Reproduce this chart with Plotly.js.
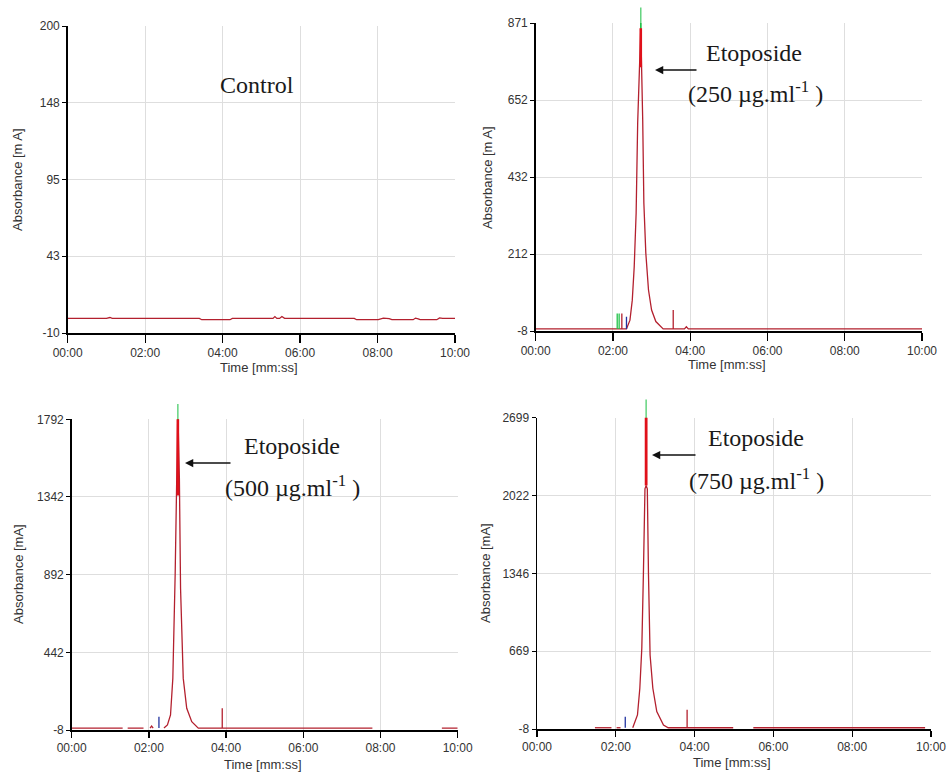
<!DOCTYPE html>
<html><head><meta charset="utf-8">
<script src="https://cdn.plot.ly/plotly-3.0.1.min.js"></script>
<style>html,body{margin:0;padding:0;background:#fff}#chart{width:947px;height:772px}</style>
</head><body><div id="chart"></div>
<script>
// ---------------- DATA (time in minutes, absorbance in mA) ----------------
const xTickVals = [0, 2, 4, 6, 8, 10];
const xTickText = ['00:00', '02:00', '04:00', '06:00', '08:00', '10:00'];

// Panel 1 – Control
const ctrlTime = [0, 1.0, 1.09, 1.15, 3.4, 3.46, 4.19, 4.25, 5.3, 5.35, 5.4, 5.47, 5.53, 5.6, 7.4, 7.46, 8.02, 8.15, 8.3, 8.37, 8.92, 8.98, 9.05, 9.1, 9.53, 9.6, 9.68, 10];
const ctrlAbs  = [0, 0, 0.6, 0, 0, -0.9, -0.9, 0, 0, 1.2, 0, 0, 1.3, 0, 0, -0.9, -0.9, 0.2, -0.2, -0.9, -0.9, 0.2, -0.3, -0.9, -0.9, 0.3, 0, 0];
const ctrlTickVals = [-10, 42.5, 95, 147.5, 200];
const ctrlTickText = ['-10', '43', '95', '148', '200'];
const ctrlRange = [-10, 200];

// Panel 2 – Etoposide 250 µg/ml
const p250Time = [0, 2.35, 2.44, 2.50, 2.55, 2.60, 2.64, 2.68, 2.72, 2.77, 2.80, 2.85, 2.92, 3.00, 3.11, 3.30, 3.85, 3.90, 3.95, 10];
const p250Abs  = [-2, -2, 23, 80, 175, 329, 586, 746, 856, 594, 357, 215, 109, 52, 19, -2, -2, 4, -2, -2];
const p250Base = -2;
const p250GreenSpikeTime = [2.11, 2.16];
const p250GreenSpikeAbs  = [42, 42];
const p250RedSpikeTime = [2.23, 3.56];
const p250RedSpikeAbs  = [42, 52];
const p250BlueSpikeTime = [2.35];
const p250BlueSpikeAbs  = [33];
const p250ApexTime = [2.72, 2.72];
const p250ApexAbs  = [745, 856];
const p250TopTime = [2.72, 2.72];
const p250TopAbs  = [856, 871];
const p250TickVals = [-8, 211.75, 431.5, 651.25, 871];
const p250TickText = ['-8', '212', '432', '652', '871'];
const p250Range = [-8, 871];

// Panel 3 – Etoposide 500 µg/ml
const p500Time = [0, 1.32, 1.38, 1.45, 1.86, 1.95, 2.03, 2.07, 2.11, 2.2, 2.39, 2.48, 2.56, 2.62, 2.68, 2.71, 2.75, 2.79, 2.82, 2.89, 2.98, 3.11, 3.28, 7.79, 8.5, 9.59, 10];
const p500Abs  = [3, 3, null, 3, 3, null, 3, 15, 3, null, 3, 21, 79, 291, 890, 1400, 1850, 1450, 813, 291, 118, 40, 3, 3, null, 3, 3];
const p500Base = 3;
const p500BlueSpikeTime = [2.26];
const p500BlueSpikeAbs  = [69];
const p500RedSpikeTime = [3.90];
const p500RedSpikeAbs  = [118];
const p500ApexTime = [2.75, 2.75];
const p500ApexAbs  = [1350, 1850];
const p500TopTime = [2.75, 2.75];
const p500TopAbs  = [1760, 1792];
const p500TickVals = [-8, 442, 892, 1342, 1792];
const p500TickText = ['-8', '442', '892', '1342', '1792'];
const p500Range = [-8, 1792];

// Panel 4 – Etoposide 750 µg/ml
const p750Time = [1.47, 1.89, 1.95, 2.02, 2.12, 2.2, 2.43, 2.55, 2.61, 2.66, 2.70, 2.74, 2.77, 2.80, 2.83, 2.87, 2.94, 3.04, 3.21, 3.33, 4.98, 5.2, 5.49, 9.85];
const p750Abs  = [3, 3, null, 3, 3, null, 3, 114, 346, 694, 1331, 2080, 2110, 2080, 1331, 636, 346, 143, 27, 3, 3, null, 3, 3];
const p750Base = 3;
const p750BlueSpikeTime = [2.24];
const p750BlueSpikeAbs  = [99];
const p750RedSpikeTime = [3.81];
const p750RedSpikeAbs  = [160];
const p750ApexTime = [2.77, 2.77];
const p750ApexAbs  = [2110, 2760];
const p750TopTime = [2.77, 2.77];
const p750TopAbs  = [2650, 2699];
const p750TickVals = [-8, 668.75, 1345.5, 2022.25, 2699];
const p750TickText = ['-8', '669', '1346', '2022', '2699'];
const p750Range = [-8, 2699];

// ---------------- STYLE / LAYOUT ----------------
const W = 947, H = 772;
const MAIN = '#b3202e', APEX = '#e0101a', GREEN = '#22c24a', BLUE = '#2233a0';
const TICKFONT = {family: "'Liberation Sans Narrow', 'Liberation Sans', Arial, sans-serif", size: 12, color: '#333'};
const TITLEFONT = {family: "'Liberation Sans', Arial, sans-serif", size: 13, color: '#333'};
const SERIF = {family: "'Liberation Serif', 'DejaVu Serif', serif", size: 24, color: '#1a1a1a'};

function px(x, y) { return {x: x / W, y: 1 - y / H}; }

const traces = [];
function line(t, v, n, color, width) {
  traces.push({x: t, y: v, xaxis: 'x' + n, yaxis: 'y' + n, mode: 'lines',
    line: {color: color, width: width}, hoverinfo: 'skip', showlegend: false, connectgaps: false});
}
function spikes(t, top, base, n, color) {
  const xs = [], ys = [];
  t.forEach((tt, i) => { xs.push(tt, tt, null); ys.push(base, top[i], null); });
  line(xs, ys, n, color, 1.3);
}
// green detector trace at the apex; its last point (at the axis top) carries a
// vertical tick marker that is allowed to overhang the plot frame
function topMark(t, v, n, size) {
  traces.push({x: t, y: v, xaxis: 'x' + n, yaxis: 'y' + n, mode: 'lines+markers', cliponaxis: false,
    line: {color: GREEN, width: 1.5},
    marker: {symbol: 'line-ns', size: [0, size], color: GREEN, line: {color: GREEN, width: 1.5}},
    hoverinfo: 'skip', showlegend: false});
}

// panel 1
line(ctrlTime, ctrlAbs, '', MAIN, 1.3);
// panel 2
line(p250Time, p250Abs, 2, MAIN, 1.3);
spikes(p250GreenSpikeTime, p250GreenSpikeAbs, p250Base, 2, GREEN);
spikes(p250RedSpikeTime, p250RedSpikeAbs, p250Base, 2, MAIN);
spikes(p250BlueSpikeTime, p250BlueSpikeAbs, p250Base, 2, BLUE);
topMark(p250TopTime, p250TopAbs, 2, 22);
line(p250ApexTime, p250ApexAbs, 2, APEX, 2.6);
// panel 3
line(p500Time, p500Abs, 3, MAIN, 1.3);
spikes(p500BlueSpikeTime, p500BlueSpikeAbs, p500Base, 3, BLUE);
spikes(p500RedSpikeTime, p500RedSpikeAbs, p500Base, 3, MAIN);
topMark(p500TopTime, p500TopAbs, 3, 22);
line(p500ApexTime, p500ApexAbs, 3, APEX, 2.6);
// panel 4
line(p750Time, p750Abs, 4, MAIN, 1.3);
spikes(p750BlueSpikeTime, p750BlueSpikeAbs, p750Base, 4, BLUE);
spikes(p750RedSpikeTime, p750RedSpikeAbs, p750Base, 4, MAIN);
topMark(p750TopTime, p750TopAbs, 4, 26);
line(p750ApexTime, p750ApexAbs, 4, APEX, 2.8);

function xAxis(l, r, anchor, tl) {
  return {domain: [l / W, r / W], anchor: anchor, range: [0, 10], tickvals: xTickVals, ticktext: xTickText,
    showline: true, linecolor: '#000', linewidth: 1.5, ticks: 'outside', ticklen: tl, tickwidth: 1.3, tickcolor: '#000',
    showgrid: true, gridcolor: '#dedede', gridwidth: 1, zeroline: false, tickfont: TICKFONT, fixedrange: true};
}
function yAxis(t, b, anchor, range, vals, text) {
  return {domain: [1 - b / H, 1 - t / H], anchor: anchor, range: range, tickvals: vals, ticktext: text,
    showline: true, linecolor: '#000', linewidth: 1.5, ticks: 'outside', ticklen: 4, tickwidth: 1, tickcolor: '#000',
    showgrid: true, gridcolor: '#dedede', gridwidth: 1, zeroline: false, tickfont: TICKFONT, fixedrange: true};
}

const annotations = [];
function txt(x, y, text, font, angle) {
  const p = px(x, y);
  annotations.push({xref: 'paper', yref: 'paper', x: p.x, y: p.y, xanchor: 'center', yanchor: 'middle',
    text: text, showarrow: false, font: font, textangle: angle || 0});
}
function arrow(hx, hy, len) {
  const p = px(hx, hy);
  annotations.push({xref: 'paper', yref: 'paper', x: p.x, y: p.y, text: '', showarrow: true,
    ax: len, ay: 0, axref: 'pixel', ayref: 'pixel', arrowhead: 2, arrowsize: 1.1, arrowwidth: 1.5, arrowcolor: '#111', standoff: 0});
}
// axis titles
txt(18, 180, 'Absorbance [m A]', TITLEFONT, -90);
txt(487, 177, 'Absorbance [m A]', TITLEFONT, -90);
txt(18, 574, 'Absorbance [mA]', TITLEFONT, -90);
txt(485, 573, 'Absorbance [mA]', TITLEFONT, -90);
txt(259, 367, 'Time [mm:ss]', TITLEFONT);
txt(727, 364, 'Time [mm:ss]', TITLEFONT);
txt(263, 764, 'Time [mm:ss]', TITLEFONT);
txt(732, 762, 'Time [mm:ss]', TITLEFONT);
// labels
txt(257, 85, 'Control', SERIF);
txt(754, 53, 'Etoposide', SERIF);
txt(755, 92, '(250 µg.ml<sup>-1</sup> )', SERIF);
arrow(655, 70, 43);
txt(292, 446, 'Etoposide', SERIF);
txt(292, 486, '(500 µg.ml<sup>-1</sup> )', SERIF);
arrow(185, 463, 47);
txt(756, 438, 'Etoposide', SERIF);
txt(756, 479, '(750 µg.ml<sup>-1</sup> )', SERIF);
arrow(652, 455, 45);

const layout = {
  width: W, height: H, margin: {l: 0, r: 0, t: 0, b: 0}, paper_bgcolor: '#fff', plot_bgcolor: '#fff',
  showlegend: false,
  xaxis: xAxis(67.7, 455, 'y', 8),
  yaxis: yAxis(26, 333, 'x', ctrlRange, ctrlTickVals, ctrlTickText),
  xaxis2: xAxis(535.7, 922, 'y2', 8),
  yaxis2: yAxis(23, 331, 'x2', p250Range, p250TickVals, p250TickText),
  xaxis3: xAxis(71.7, 457.7, 'y3', 6),
  yaxis3: yAxis(419.3, 730, 'x3', p500Range, p500TickVals, p500TickText),
  xaxis4: xAxis(537, 931, 'y4', 6),
  yaxis4: yAxis(417.7, 729, 'x4', p750Range, p750TickVals, p750TickText),
  annotations: annotations
};
Plotly.newPlot('chart', traces, layout, {staticPlot: true, displayModeBar: false});
</script>
</body></html>
